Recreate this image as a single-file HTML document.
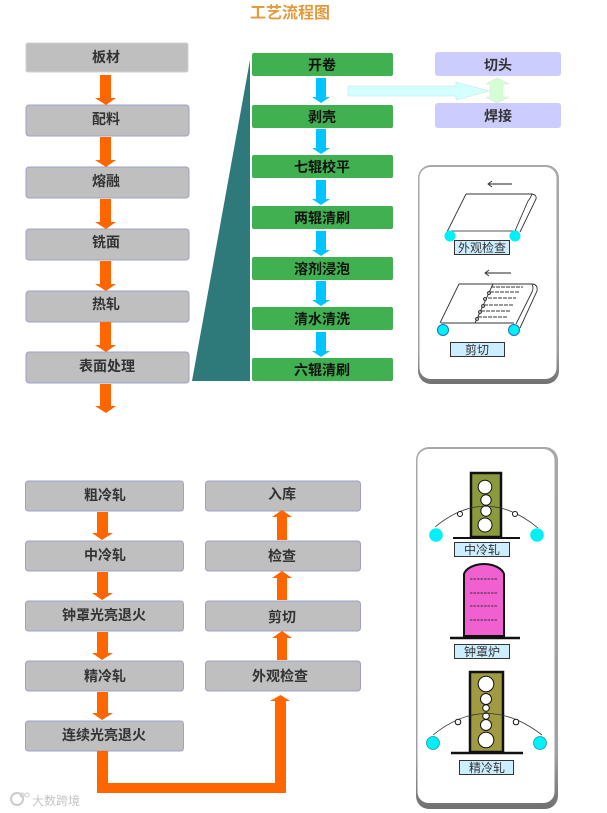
<!DOCTYPE html>
<html><head><meta charset="utf-8"><style>
html,body{margin:0;padding:0;background:#fff}
svg{display:block}
text{font-family:"Liberation Sans","Noto Sans CJK SC",sans-serif;text-anchor:middle;fill:#222}
.b{font-size:14px;font-weight:700;fill:#333}
.g{font-size:14px;font-weight:700;fill:#111}
.l{font-size:12px;fill:#333}
.lb{fill:#cceeff;stroke:#333;stroke-width:1}
.gr{fill:#bfbfbf;stroke:#a0a0c8;stroke-width:1}
.gn{fill:#40b050}
.pu{fill:#ccccff}
.or{fill:#ff6600}
.bl{fill:#00c4ff}
.ln{fill:none;stroke:#333;stroke-width:.9}
.rl{fill:#fff;stroke:#111;stroke-width:1}
.cy{fill:#00f0f8}
</style></head><body>
<svg width="607" height="813" viewBox="0 0 607 813" xmlns="http://www.w3.org/2000/svg">
<defs>
<linearGradient id="pg" x1="0" y1="0" x2="0" y2="1">
<stop offset="0" stop-color="#a8a8a8"/><stop offset="0.85" stop-color="#a0a0a0"/><stop offset="1" stop-color="#707070"/>
</linearGradient>
</defs>
<rect width="607" height="813" fill="#fff"/>
<text x="290" y="18" style="font-size:16px;font-weight:700;fill:#e29a3c">工艺流程图</text>

<!-- left column -->
<g>
<rect x="26" y="43" width="162" height="29" rx="2" fill="#bfbfbf" stroke="#cfcfcf"/>
<rect x="26" y="105" width="163" height="31" rx="3" class="gr"/>
<rect x="26" y="167" width="163" height="31" rx="3" class="gr"/>
<rect x="26" y="229" width="163" height="31" rx="3" class="gr"/>
<rect x="26" y="291" width="163" height="31" rx="3" class="gr"/>
<rect x="26" y="352" width="163" height="31" rx="3" class="gr"/>
</g>
<text x="106" y="62" class="b">板材</text>
<text x="106" y="124" class="b">配料</text>
<text x="106" y="186" class="b">熔融</text>
<text x="106" y="247" class="b">铣面</text>
<text x="106" y="309" class="b">热轧</text>
<text x="107" y="371" class="b">表面处理</text>
<g class="or">
<polygon points="100,75 111,75 111,98 116,98 106,105 95,98 100,98"/>
<polygon points="100,137 111,137 111,160 116,160 106,167 95,160 100,160"/>
<polygon points="100,199 111,199 111,222 116,222 106,229 95,222 100,222"/>
<polygon points="100,261 111,261 111,284 116,284 106,291 95,284 100,284"/>
<polygon points="100,322 111,322 111,345 116,345 106,352 95,345 100,345"/>
<polygon points="100,384 111,384 111,406 116,406 106,413 95,406 100,406"/>
</g>

<!-- trapezoid -->
<polygon points="250,60 250,381 192,381" fill="#2e7a7a"/>

<!-- green column -->
<rect x="252" y="53" width="141" height="23" rx="2" class="gn"/>
<rect x="252" y="105" width="141" height="23" rx="2" class="gn"/>
<rect x="252" y="155" width="141" height="23" rx="2" class="gn"/>
<rect x="252" y="206" width="141" height="23" rx="2" class="gn"/>
<rect x="252" y="257" width="141" height="23" rx="2" class="gn"/>
<rect x="252" y="307" width="141" height="23" rx="2" class="gn"/>
<rect x="252" y="358" width="141" height="23" rx="2" class="gn"/>
<text x="322" y="70" class="g">开卷</text>
<text x="322" y="122" class="g">剥壳</text>
<text x="322" y="172" class="g">七辊校平</text>
<text x="322" y="223" class="g">两辊清刷</text>
<text x="322" y="274" class="g">溶剂浸泡</text>
<text x="322" y="324" class="g">清水清洗</text>
<text x="322" y="375" class="g">六辊清刷</text>
<g class="bl">
<polygon points="316,78 326,78 326,97 330,97 321,103 312,97 316,97"/>
<polygon points="316,129 326,129 326,148 330,148 321,154 312,148 316,148"/>
<polygon points="316,180 326,180 326,199 330,199 321,205 312,199 316,199"/>
<polygon points="316,231 326,231 326,250 330,250 321,256 312,250 316,250"/>
<polygon points="316,281 326,281 326,300 330,300 321,306 312,300 316,300"/>
<polygon points="316,332 326,332 326,351 330,351 321,357 312,351 316,351"/>
</g>

<!-- right top -->
<rect x="435" y="52" width="126" height="24" rx="3" class="pu"/>
<rect x="435" y="103" width="126" height="25" rx="3" class="pu"/>
<text x="498" y="70" class="b">切头</text>
<text x="498" y="121" class="b">焊接</text>
<polygon points="348,86 456,86 456,82 489,91 456,100 456,96 348,96" fill="#d4ffff" stroke="#c4e4e4" stroke-width=".6"/>
<polygon points="497,78 509,84 503,84 503,97 509,97 497,103 486,97 490,97 490,84 486,84" fill="#d4ffd4" stroke="#d8e4d8" stroke-width=".6"/>

<!-- panel 1 -->
<rect x="418" y="165" width="141" height="219" rx="13" fill="url(#pg)"/>
<rect x="419.500" y="167" width="137" height="212" rx="11" fill="#fff"/>
<g>
<line x1="488" y1="184" x2="512" y2="184" stroke="#222"/>
<polyline points="492,181 488,184 492,187" class="ln"/>
<path d="M466,194 H532 Q537,195 536,199 L520,232 M466,194 L447,232 M532,194 Q530,199 528,201 L515,231" class="ln"/>
<line x1="449" y1="231" x2="517" y2="231" stroke="#555"/>
<circle cx="450" cy="236" r="5.500" class="cy"/>
<circle cx="515" cy="236" r="5.500" class="cy"/>
<rect x="454.500" y="240.500" width="55" height="14" class="lb"/>
<text x="482" y="252" class="l">外观检查</text>

<line x1="485" y1="273" x2="511" y2="273" stroke="#222"/>
<polyline points="489,270 485,273 489,276" class="ln"/>
<path d="M459,284 H533 Q538,285 537,291 L520,328 M459,284 L440,323 M532,284 Q534,288 532,292 L516,324 M441,323 H514 M493,284 L475,323" class="ln"/>
<path d="M491,287 H523 M490,292 H520 M488,298 H516 M484,305 H514 M481,311 H510 M478,317 H507" stroke="#333" stroke-width="1" stroke-dasharray="4 1" fill="none"/>
<g fill="#bbb" stroke="#222" stroke-width=".8">
<circle cx="489" cy="293" r="1.500"/><circle cx="485" cy="299" r="1.500"/><circle cx="483" cy="306" r="1.500"/><circle cx="480" cy="312" r="1.500"/><circle cx="477" cy="319" r="1.500"/>
</g>
<circle cx="443" cy="330" r="5.500" class="cy" stroke="#1870c0"/>
<circle cx="514" cy="330" r="5.500" class="cy" stroke="#1870c0"/>
<rect x="450.500" y="342.500" width="54" height="14" class="lb"/>
<text x="477" y="354" class="l">剪切</text>
</g>

<!-- lower left -->
<rect x="25.500" y="481" width="158" height="30" rx="3" class="gr"/>
<rect x="25.500" y="541" width="158" height="30" rx="3" class="gr"/>
<rect x="25.500" y="601" width="158" height="30" rx="3" class="gr"/>
<rect x="25.500" y="661" width="158" height="30" rx="3" class="gr"/>
<rect x="25.500" y="721" width="158" height="30" rx="3" class="gr"/>
<text x="105" y="500" class="b">粗冷轧</text>
<text x="105" y="560" class="b">中冷轧</text>
<text x="104" y="620" class="b">钟罩光亮退火</text>
<text x="105" y="681" class="b">精冷轧</text>
<text x="104" y="740" class="b">连续光亮退火</text>
<g class="or">
<polygon points="97,512 108,512 108,533 113,533 102,540 92,533 97,533"/>
<polygon points="97,572 108,572 108,593 113,593 102,600 92,593 97,593"/>
<polygon points="97,632 108,632 108,653 113,653 102,660 92,653 97,653"/>
<polygon points="97,692 108,692 108,713 113,713 102,720 92,713 97,713"/>
</g>

<!-- lower right -->
<rect x="205.500" y="481" width="155" height="30" rx="3" class="gr"/>
<rect x="205.500" y="541" width="155" height="30" rx="3" class="gr"/>
<rect x="205.500" y="601" width="155" height="30" rx="3" class="gr"/>
<rect x="205.500" y="661" width="155" height="30" rx="3" class="gr"/>
<text x="282" y="499" class="b">入库</text>
<text x="282" y="561" class="b">检查</text>
<text x="282" y="622" class="b">剪切</text>
<text x="280" y="681" class="b">外观检查</text>
<g class="or">
<polygon points="282,510 292,517 287,517 287,540 277,540 277,517 272,517"/>
<polygon points="282,571 292,578 287,578 287,600 277,600 277,578 272,578"/>
<polygon points="282,631 292,638 287,638 287,660 277,660 277,638 272,638"/>
<polygon points="97,751 108,751 108,783 275,783 275,701 270,701 280.500,695 290,701 286,701 286,793 97,793"/>
</g>

<!-- panel 2 -->
<rect x="416" y="447" width="142" height="362" rx="13" fill="url(#pg)"/>
<rect x="417.500" y="449" width="137" height="354" rx="11" fill="#fff"/>

<!-- mill 1 -->
<rect x="471" y="473" width="30" height="64" fill="#8a9a3c" stroke="#111" stroke-width="2.500"/>
<circle cx="485" cy="487" r="6.800" class="rl"/>
<circle cx="486" cy="500" r="5.200" class="rl"/>
<circle cx="486" cy="511" r="5.200" class="rl"/>
<circle cx="485" cy="525" r="7" class="rl"/>
<line x1="453" y1="538" x2="520" y2="538" stroke="#111" stroke-width="2"/>
<path d="M435,527 Q486,485 538,528" fill="none" stroke="#333" stroke-width=".8"/>
<circle cx="460" cy="514" r="2.500" class="rl"/>
<circle cx="515" cy="514" r="2.500" class="rl"/>
<circle cx="436" cy="535" r="6.800" class="cy"/>
<circle cx="537" cy="535" r="6.800" class="cy"/>
<rect x="454.500" y="542.500" width="55" height="14" class="lb"/>
<text x="482" y="554" class="l">中冷轧</text>

<!-- furnace -->
<path d="M464,636 V574 Q466,568 476,565 Q484,563 492,565 Q502,568 504,574 V636 Z" fill="#f060d0" stroke="#111" stroke-width="2"/>
<path d="M470,579 H497 M470,593 H497 M470,606 H497 M470,620 H497" stroke="#333" stroke-dasharray="2.500 1" fill="none"/>
<line x1="450" y1="638" x2="520" y2="638" stroke="#111" stroke-width="2.500"/>
<rect x="454.500" y="644.500" width="55" height="14" class="lb"/>
<text x="482" y="656" class="l">钟罩炉</text>

<!-- mill 2 -->
<rect x="470" y="672" width="33" height="80" fill="#a09a40" stroke="#111" stroke-width="2.500"/>
<circle cx="486" cy="684" r="7.800" class="rl"/>
<circle cx="486" cy="699" r="5.500" class="rl"/>
<circle cx="486" cy="708" r="3.300" class="rl"/>
<circle cx="486" cy="716" r="3.300" class="rl"/>
<circle cx="486" cy="725" r="5.500" class="rl"/>
<circle cx="486" cy="740" r="7.800" class="rl"/>
<line x1="451" y1="753" x2="523" y2="753" stroke="#111" stroke-width="2.500"/>
<path d="M433,735 Q486,692 542,735" fill="none" stroke="#333" stroke-width=".8"/>
<circle cx="458" cy="722" r="2.800" class="rl"/>
<circle cx="516" cy="722" r="2.800" class="rl"/>
<circle cx="433" cy="743" r="6.500" class="cy" stroke="#1890a0" stroke-width=".7"/>
<circle cx="540" cy="743" r="6.500" class="cy" stroke="#1890a0" stroke-width=".7"/>
<rect x="459.500" y="760.500" width="54" height="14" class="lb"/>
<text x="487" y="772" class="l">精冷轧</text>

<!-- watermark -->
<circle cx="17" cy="799" r="6" fill="none" stroke="#ccc" stroke-width="2"/>
<circle cx="22" cy="795" r="2" fill="none" stroke="#ccc"/>
<circle cx="27" cy="795" r="2" fill="none" stroke="#ccc"/>
<text x="56" y="805" style="font-size:12px;fill:#c4c4c4">大数跨境</text>
</svg>
</body></html>
